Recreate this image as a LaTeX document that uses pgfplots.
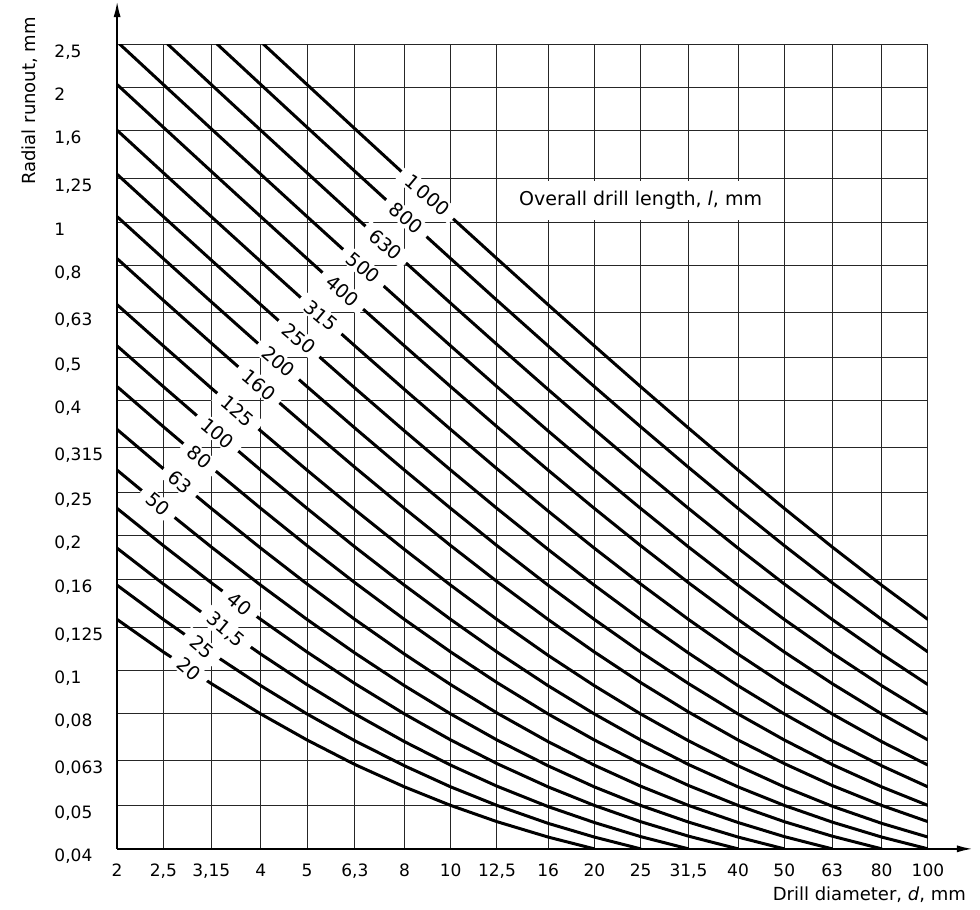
\documentclass[border=0pt]{standalone}
\usepackage{fontspec}
\setmainfont{DejaVu Sans}
\usepackage{pgfplots}
\pgfplotsset{compat=1.18}
\usetikzlibrary{arrows.meta,calc}
\newcommand\tickfont{\fontsize{8.5}{10}\selectfont}
\newcommand\lblfont{\fontsize{9.5}{10}\selectfont}
\tikzset{lbl/.style={font=\lblfont, fill=white, inner xsep=4.5pt, inner ysep=0.8pt, rotate=-40},
  crv/.style={black, line width=1.5pt, line cap=round, line join=round}}
\begin{document}
\begin{tikzpicture}
\begin{axis}[
  width=405pt, height=402pt, scale only axis,
  xmode=log, ymode=log,
  xmin=2, xmax=100, ymin=0.04, ymax=2.5,
  enlargelimits=false,
  set layers=standard,
  axis x line=bottom, axis y line=left,
  x axis line style={line width=1pt, -{Latex[length=8pt,width=3.5pt]}, shorten >=-22.5pt},
  y axis line style={line width=1pt, -{Latex[length=8pt,width=3.5pt]}, shorten >=-21.5pt},
  xtick={2,2.5,3.15,4,5,6.3,8,10,12.5,16,20,25,31.5,40,50,63,80,100},
  xticklabels={2,{2,5},{3,15},4,5,{6,3},8,10,{12,5},16,20,25,{31,5},40,50,63,80,100},
  ytick={0.04,0.05,0.063,0.08,0.1,0.125,0.16,0.2,0.25,0.315,0.4,0.5,0.63,0.8,1,1.25,1.6,2,2.5},
  yticklabels={{0,04},{0,05},{0,063},{0,08},{0,1},{0,125},{0,16},{0,2},{0,25},{0,315},{0,4},{0,5},{0,63},{0,8},1,{1,25},{1,6},2,{2,5}},
  minor xtick={}, minor ytick={},
  major tick length=0pt,
  grid=major,
  major grid style={line width=0.5pt, black!85},
  xticklabel style={font=\tickfont, anchor=north, inner sep=0pt, yshift=-7.5pt},
  yticklabel style={font=\tickfont, anchor=north west, inner sep=0pt, xshift=-31.5pt},
]
% l = 20
\addplot[crv] coordinates {(2,0.13) (2.5,0.11) (3.15,0.0935) (4,0.08) (5,0.07) (6.3,0.0617) (8,0.055) (10,0.05) (12.5,0.046) (16,0.0425) (20,0.04)};
% l = 25
\addplot[crv] coordinates {(2,0.155) (2.5,0.13) (3.15,0.1094) (4,0.0925) (5,0.08) (6.3,0.0697) (8,0.0613) (10,0.055) (12.5,0.05) (16,0.0456) (20,0.0425) (25,0.04)};
% l = 31.5
\addplot[crv] coordinates {(2,0.1875) (2.5,0.156) (3.15,0.13) (4,0.1088) (5,0.093) (6.3,0.08) (8,0.0694) (10,0.0615) (12.5,0.0552) (16,0.0497) (20,0.0458) (25,0.0426) (31.5,0.04)};
% l = 40
\addplot[crv] coordinates {(2,0.23) (2.5,0.19) (3.15,0.157) (4,0.13) (5,0.11) (6.3,0.0935) (8,0.08) (10,0.07) (12.5,0.062) (16,0.055) (20,0.05) (25,0.046) (31.5,0.0427) (40,0.04)};
% l = 50
\addplot[crv] coordinates {(2,0.28) (2.5,0.23) (3.15,0.1887) (4,0.155) (5,0.13) (6.3,0.1094) (8,0.0925) (10,0.08) (12.5,0.07) (16,0.0613) (20,0.055) (25,0.05) (31.5,0.0459) (40,0.0425) (50,0.04)};
% l = 63
\addplot[crv] coordinates {(2,0.345) (2.5,0.282) (3.15,0.23) (4,0.1875) (5,0.156) (6.3,0.13) (8,0.1088) (10,0.093) (12.5,0.0804) (16,0.0694) (20,0.0615) (25,0.0552) (31.5,0.05) (40,0.0458) (50,0.0426) (63,0.04)};
% l = 80
\addplot[crv] coordinates {(2,0.43) (2.5,0.35) (3.15,0.284) (4,0.23) (5,0.19) (6.3,0.157) (8,0.13) (10,0.11) (12.5,0.094) (16,0.08) (20,0.07) (25,0.062) (31.5,0.0554) (40,0.05) (50,0.046) (63,0.0427) (80,0.04)};
% l = 100
\addplot[crv] coordinates {(2,0.53) (2.5,0.43) (3.15,0.3475) (4,0.28) (5,0.23) (6.3,0.1887) (8,0.155) (10,0.13) (12.5,0.11) (16,0.0925) (20,0.08) (25,0.07) (31.5,0.0617) (40,0.055) (50,0.05) (63,0.0459) (80,0.0425) (100,0.04)};
% l = 125
\addplot[crv] coordinates {(2,0.655) (2.5,0.53) (3.15,0.4268) (4,0.3425) (5,0.28) (6.3,0.2284) (8,0.1863) (10,0.155) (12.5,0.13) (16,0.1081) (20,0.0925) (25,0.08) (31.5,0.0697) (40,0.0613) (50,0.055) (63,0.0498) (80,0.0456) (100,0.0425)};
% l = 160
\addplot[crv] coordinates {(2,0.83) (2.5,0.67) (3.15,0.5379) (4,0.43) (5,0.35) (6.3,0.284) (8,0.23) (10,0.19) (12.5,0.158) (16,0.13) (20,0.11) (25,0.094) (31.5,0.0808) (40,0.07) (50,0.062) (63,0.0554) (80,0.05) (100,0.046)};
% l = 200
\addplot[crv] coordinates {(2,1.03) (2.5,0.83) (3.15,0.6649) (4,0.53) (5,0.43) (6.3,0.3475) (8,0.28) (10,0.23) (12.5,0.19) (16,0.155) (20,0.13) (25,0.11) (31.5,0.0935) (40,0.08) (50,0.07) (63,0.0617) (80,0.055) (100,0.05)};
% l = 250
\addplot[crv] coordinates {(2,1.28) (2.5,1.03) (3.15,0.8237) (4,0.655) (5,0.53) (6.3,0.4268) (8,0.3425) (10,0.28) (12.5,0.23) (16,0.1863) (20,0.155) (25,0.13) (31.5,0.1094) (40,0.0925) (50,0.08) (63,0.0697) (80,0.0613) (100,0.055)};
% l = 315
\addplot[crv] coordinates {(2,1.605) (2.5,1.29) (3.15,1.03) (4,0.8175) (5,0.66) (6.3,0.53) (8,0.4238) (10,0.345) (12.5,0.282) (16,0.2269) (20,0.1875) (25,0.156) (31.5,0.13) (40,0.1088) (50,0.093) (63,0.08) (80,0.0694) (100,0.0615)};
% l = 400
\addplot[crv] coordinates {(2,2.03) (2.5,1.63) (3.15,1.2998) (4,1.03) (5,0.83) (6.3,0.6649) (8,0.53) (10,0.43) (12.5,0.35) (16,0.28) (20,0.23) (25,0.19) (31.5,0.157) (40,0.13) (50,0.11) (63,0.0935) (80,0.08) (100,0.07)};
% l = 500
\addplot[crv] coordinates {(2.024,2.5) (2.5,2.03) (3.15,1.6173) (4,1.28) (5,1.03) (6.3,0.8237) (8,0.655) (10,0.53) (12.5,0.43) (16,0.3425) (20,0.28) (25,0.23) (31.5,0.1887) (40,0.155) (50,0.13) (63,0.1094) (80,0.0925) (100,0.08)};
% l = 630
\addplot[crv] coordinates {(2.551,2.5) (3.15,2.03) (4,1.605) (5,1.29) (6.3,1.03) (8,0.8175) (10,0.66) (12.5,0.534) (16,0.4238) (20,0.345) (25,0.282) (31.5,0.23) (40,0.1875) (50,0.156) (63,0.13) (80,0.1088) (100,0.093)};
% l = 800
\addplot[crv] coordinates {(3.239,2.5) (4,2.03) (5,1.63) (6.3,1.2998) (8,1.03) (10,0.83) (12.5,0.67) (16,0.53) (20,0.43) (25,0.35) (31.5,0.284) (40,0.23) (50,0.19) (63,0.157) (80,0.13) (100,0.11)};
% l = 1000
\addplot[crv] coordinates {(4.049,2.5) (5,2.03) (6.3,1.6173) (8,1.28) (10,1.03) (12.5,0.83) (16,0.655) (20,0.53) (25,0.43) (31.5,0.3475) (40,0.28) (50,0.23) (63,0.1887) (80,0.155) (100,0.13)};

\begin{pgfonlayer}{axis foreground}
% curve labels
\node[lbl] at (axis cs:8.93,1.150) {1\,000};
\node[lbl] at (axis cs:8.07,1.021) {800};
\node[lbl] at (axis cs:7.31,0.892) {630};
\node[lbl] at (axis cs:6.56,0.792) {500};
\node[lbl] at (axis cs:5.94,0.703) {400};
\node[lbl] at (axis cs:5.35,0.619) {315};
\node[lbl] at (axis cs:4.81,0.550) {250};
\node[lbl] at (axis cs:4.355,0.489) {200};
\node[lbl] at (axis cs:3.963,0.434) {160};
\node[lbl] at (axis cs:3.58,0.379) {125};
\node[lbl] at (axis cs:3.245,0.338) {100};
\node[lbl] at (axis cs:2.978,0.299) {80};
\node[lbl] at (axis cs:2.707,0.263) {63};
\node[lbl] at (axis cs:2.436,0.235) {50};
\node[lbl] at (axis cs:3.61,0.1408) {40};
\node[lbl] at (axis cs:3.377,0.1233) {31,5};
\node[lbl] at (axis cs:3.013,0.113) {25};
\node[lbl] at (axis cs:2.83,0.1007) {20};
% legend title box
\fill[white] (axis cs:12.7,1.012) rectangle (axis cs:49.3,1.235);
\node[font=\fontsize{9.5}{11}\selectfont] at (axis cs:25,1.118) {Overall drill length, \textit{l}, mm};
\end{pgfonlayer}
\end{axis}
\node[rotate=90, anchor=base east, font=\fontsize{9}{10}\selectfont] at ($(current axis.north west)+(-41pt,17pt)$) {Radial runout, mm};
\node[anchor=base east, font=\fontsize{9}{10}\selectfont] at ($(current axis.south east)+(22.5pt,-26pt)$) {Drill diameter, \textit{d}, mm};
\pgfresetboundingbox
\path ($(current axis.south west)+(-58.5pt,-30.5pt)$) rectangle ($(current axis.north east)+(26pt,22pt)$);
\end{tikzpicture}
\end{document}
